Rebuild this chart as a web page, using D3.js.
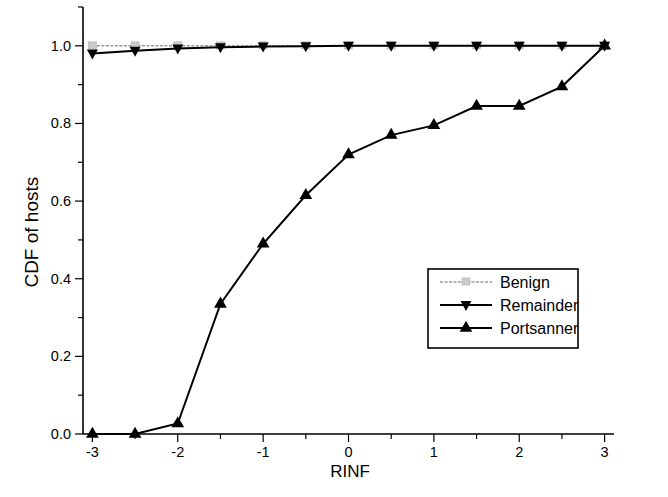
<!DOCTYPE html>
<html>
<head>
<meta charset="utf-8">
<script src="https://cdn.jsdelivr.net/npm/d3@7"></script>
<style>
  body { margin: 0; background: #fff; }
  svg text { font-family: "Liberation Sans", Arial, sans-serif; fill: #000; }
</style>
</head>
<body>
<div class="container"></div>
<script>
const rinf = [-3, -2.5, -2, -1.5, -1, -0.5, 0, 0.5, 1, 1.5, 2, 2.5, 3];
const benign = [1, 1, 1, 1, 1, 1, 1, 1, 1, 1, 1, 1, 1];
const remainder = [0.98, 0.987, 0.993, 0.996, 0.998, 0.999, 1, 1, 1, 1, 1, 1, 1];
const portscanner = [0, 0, 0.027, 0.335, 0.49, 0.615, 0.72, 0.77, 0.795, 0.845, 0.845, 0.895, 1];
const xTicks = [-3, -2, -1, 0, 1, 2, 3];
const yTicks = [0, 0.2, 0.4, 0.6, 0.8, 1.0];
const seriesNames = ["Benign", "Remainder", "Portsanner"];

const W = 668, H = 497;
const x = d3.scaleLinear().domain([-3.11, 3.11]).range([83, 614]);
const y = d3.scaleLinear().domain([0, 1.1]).range([434, 7]);

const svg = d3.select(".container").append("svg")
  .attr("width", W).attr("height", H);

// axes
const xAxis = svg.append("g").attr("transform", `translate(0,${y(0)})`);
xAxis.append("line").attr("x1", x.range()[0]).attr("x2", x.range()[1])
  .attr("stroke", "#000").attr("stroke-width", 1.6);
xAxis.selectAll(".minor").data(d3.range(-2.5, 3, 1)).enter().append("line")
  .attr("x1", d => x(d)).attr("x2", d => x(d)).attr("y1", 0).attr("y2", 5)
  .attr("stroke", "#000").attr("stroke-width", 1.2);
xAxis.selectAll(".major").data(xTicks).enter().append("line")
  .attr("x1", d => x(d)).attr("x2", d => x(d)).attr("y1", 0).attr("y2", 8)
  .attr("stroke", "#000").attr("stroke-width", 1.2);
xAxis.selectAll("text").data(xTicks).enter().append("text")
  .attr("x", d => x(d)).attr("y", 23).attr("text-anchor", "middle")
  .attr("font-size", 14.5).text(d => d);

const yAxis = svg.append("g").attr("transform", `translate(${x.range()[0]},0)`);
yAxis.append("line").attr("y1", y.range()[0]).attr("y2", y.range()[1])
  .attr("stroke", "#000").attr("stroke-width", 1.6);
yAxis.selectAll(".minor").data(d3.range(0.1, 1.15, 0.2)).enter().append("line")
  .attr("y1", d => y(d)).attr("y2", d => y(d)).attr("x1", 0).attr("x2", -5)
  .attr("stroke", "#000").attr("stroke-width", 1.2);
yAxis.selectAll(".major").data(yTicks).enter().append("line")
  .attr("y1", d => y(d)).attr("y2", d => y(d)).attr("x1", 0).attr("x2", -8)
  .attr("stroke", "#000").attr("stroke-width", 1.2);
yAxis.selectAll("text").data(yTicks).enter().append("text")
  .attr("x", -12).attr("y", d => y(d) + 5).attr("text-anchor", "end")
  .attr("font-size", 14.5).text(d => d.toFixed(1));

svg.append("text").attr("x", 350).attr("y", 477).attr("text-anchor", "middle")
  .attr("font-size", 17).text("RINF");
svg.append("text").attr("transform", `translate(38,${y(0.52)}) rotate(-90)`)
  .attr("text-anchor", "middle").attr("font-size", 19).text("CDF of hosts");

// series
const line = d3.line().x(d => x(d[0])).y(d => y(d[1]));
const zip = vals => rinf.map((r, i) => [r, vals[i]]);
const triUp = d3.symbol().type(d3.symbolTriangle).size(70);
const triDown = "M-5.5,-4L5.5,-4L0,6Z";

function benignMarker(g) {
  g.append("rect").attr("x", -4).attr("y", -4).attr("width", 8).attr("height", 7)
    .attr("fill", "#ccc").attr("stroke", "#999").attr("stroke-width", 0.8)
    .attr("stroke-dasharray", "1.5,1");
}
function remMarker(g) { g.append("path").attr("d", triDown).attr("fill", "#000"); }
function portMarker(g) { g.append("path").attr("d", triUp()).attr("fill", "#000"); }

const series = [
  { vals: benign, stroke: "#999", width: 1.6, dash: "3,1.5", marker: benignMarker },
  { vals: remainder, stroke: "#000", width: 2, dash: null, marker: remMarker },
  { vals: portscanner, stroke: "#000", width: 2, dash: null, marker: portMarker }
];

series.forEach(s => {
  svg.append("path").datum(zip(s.vals)).attr("d", line)
    .attr("fill", "none").attr("stroke", s.stroke).attr("stroke-width", s.width)
    .attr("stroke-dasharray", s.dash);
  zip(s.vals).forEach(d => {
    const g = svg.append("g").attr("transform", `translate(${x(d[0])},${y(d[1])})`);
    s.marker(g);
  });
});

// legend
const lg = svg.append("g").attr("transform", "translate(428,269)");
lg.append("rect").attr("width", 150).attr("height", 79)
  .attr("fill", "#fff").attr("stroke", "#000").attr("stroke-width", 1.6);
series.forEach((s, i) => {
  const row = lg.append("g").attr("transform", `translate(0,${13 + i * 23})`);
  row.append("line").attr("x1", 12).attr("x2", 64)
    .attr("stroke", s.stroke).attr("stroke-width", s.width).attr("stroke-dasharray", s.dash);
  s.marker(row.append("g").attr("transform", "translate(38,0)"));
  row.append("text").attr("x", 72).attr("y", 6).attr("font-size", 16).text(seriesNames[i]);
});
</script>
</body>
</html>
